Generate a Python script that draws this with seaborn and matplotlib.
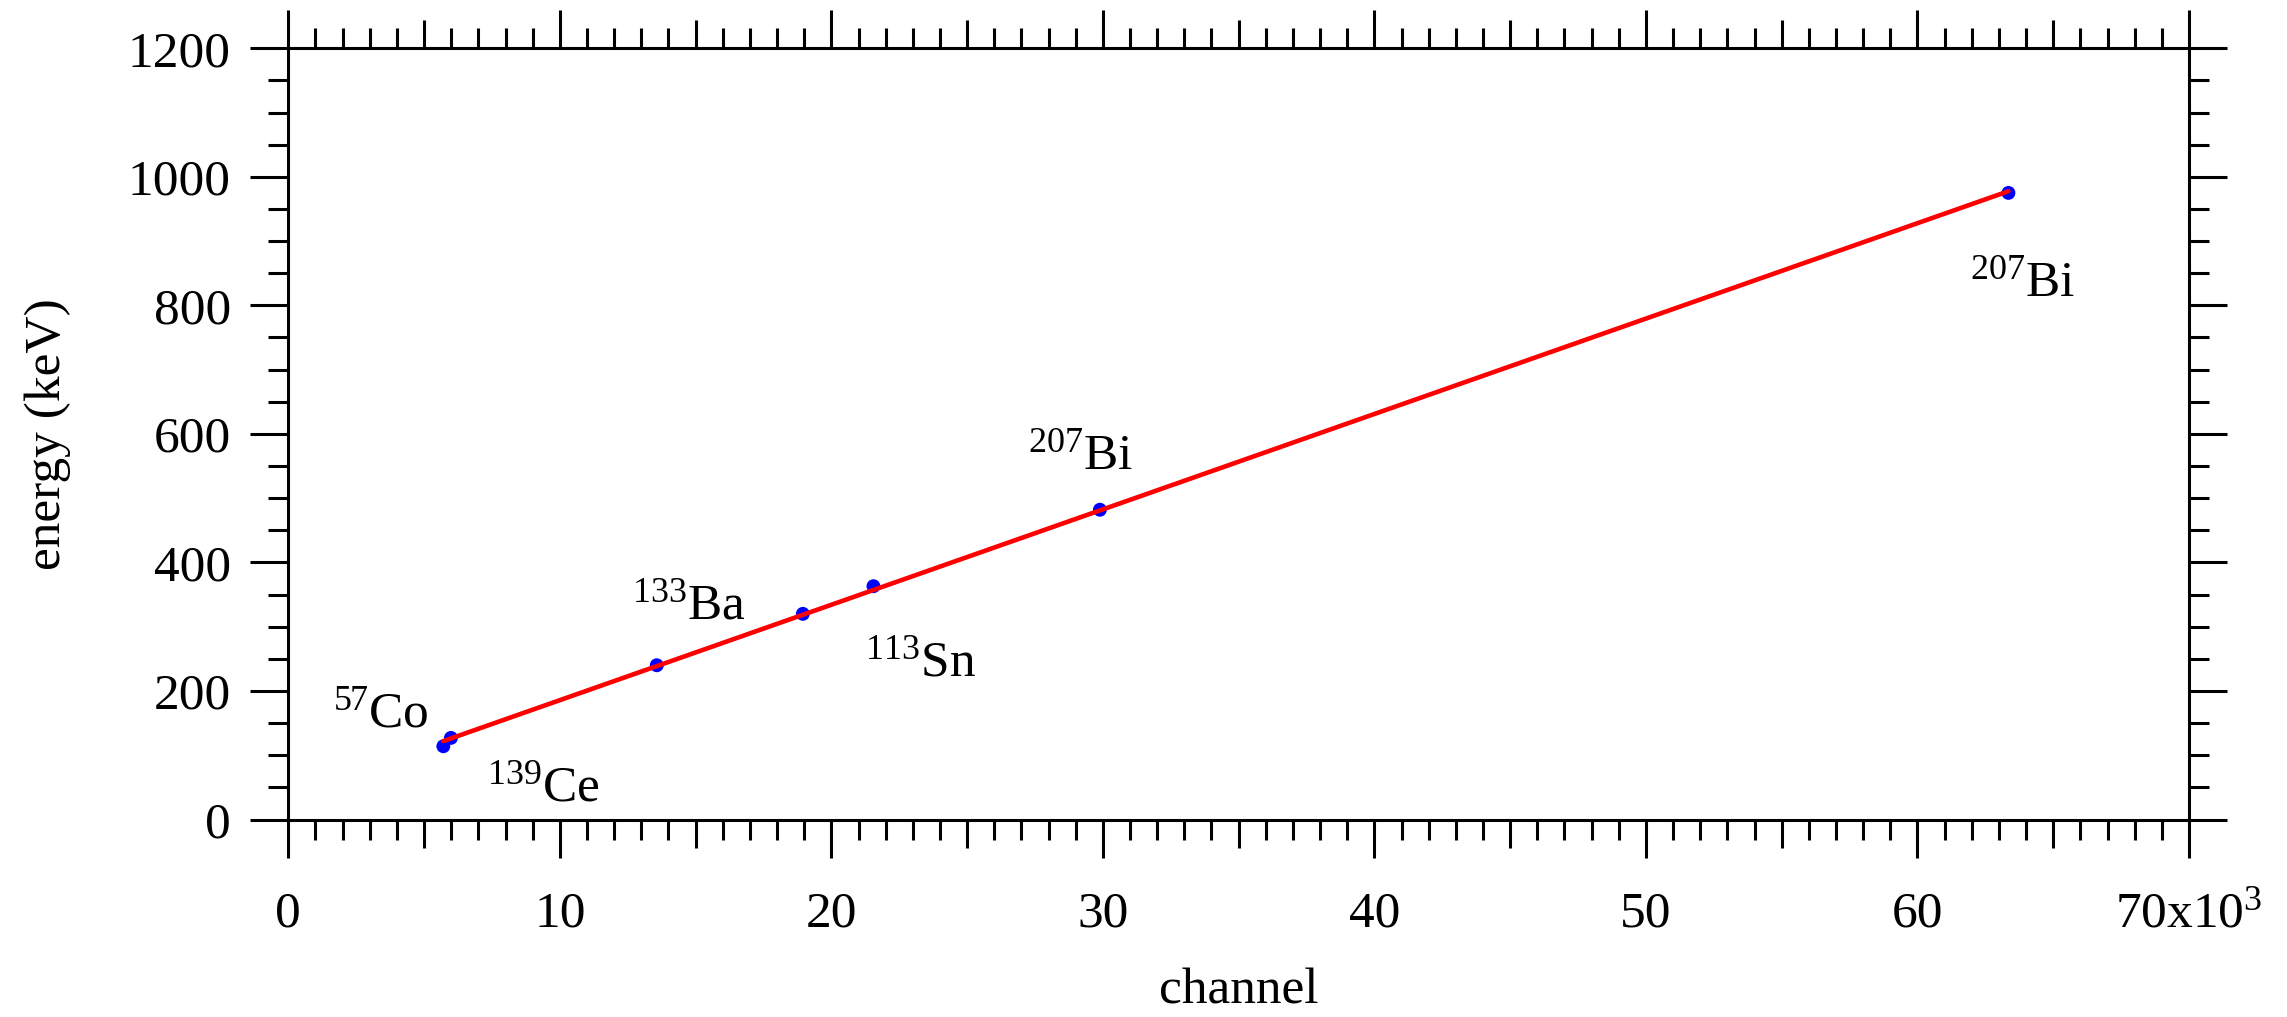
import numpy as np
import pandas as pd
import matplotlib
matplotlib.use("Agg")
import matplotlib.pyplot as plt
import seaborn as sns

# calibration points (channel in units of 10^3, energy in keV)
channel = [5.71, 5.99, 13.57, 18.95, 21.55, 29.89, 63.35]
energy = [114, 127, 240, 320, 363, 482, 975]

# isotope labels: (superscript, symbol)
iso_mass = ["57", "139", "133", "113", "207", "207"]
iso_sym = ["Co", "Ce", "Ba", "Sn", "Bi", "Bi"]
# label anchor (left, baseline) in data coords
lab_x = [1.65, 7.32, 12.66, 21.24, 27.24, 61.94]
lab_y = [145, 30, 313, 224, 545, 814]

xtick_vals = list(range(0, 71, 5))
xtick_text = ["0", "", "10", "", "20", "", "30", "", "40", "", "50", "", "60", "",
              r"70x10$^{3}$"]
ytick_vals = list(range(0, 1201, 200))

sns.set_style("ticks")
plt.rcParams["font.family"] = ["Liberation Serif", "DejaVu Serif"]
plt.rcParams["mathtext.fontset"] = "custom"
plt.rcParams["mathtext.rm"] = "Liberation Serif"
plt.rcParams["mathtext.it"] = "Liberation Serif:italic"
plt.rcParams["mathtext.bf"] = "Liberation Serif:bold"
for key in ["text.color", "axes.labelcolor", "xtick.color", "ytick.color",
            "axes.edgecolor"]:
    plt.rcParams[key] = "black"

fs = 37
px = 0.72  # points per pixel at dpi 100

fig = plt.figure(figsize=(22.87, 10.17), dpi=100)
ax = fig.add_axes([288.3 / 2287, 1 - 819.5 / 1017,
                   (2189 - 288.3) / 2287, (819.5 - 48.3) / 1017])

df = pd.DataFrame({"channel": channel, "energy": energy})
sns.scatterplot(data=df, x="channel", y="energy", ax=ax, color="#0000ff",
                s=100, edgecolor="none", zorder=3)

# linear fit through the calibration points
k, b = np.polyfit(channel, energy, 1)
fit = pd.DataFrame({"channel": [min(channel), max(channel)]})
fit["energy"] = k * fit["channel"] + b
sns.lineplot(data=fit, x="channel", y="energy", ax=ax, color="#ff0000",
             linewidth=3.3, zorder=4)

for m, s, x, y in zip(iso_mass, iso_sym, lab_x, lab_y):
    ax.text(x, y, r"$^{%s}$%s" % (m, s), fontsize=fs, ha="left", va="baseline")

ax.set_xlim(0, 70)
ax.set_ylim(0, 1200)

for side in ["top", "right", "left", "bottom"]:
    ax.spines[side].set_visible(True)
    ax.spines[side].set_linewidth(2.2)
    ax.spines[side].set_color("black")

ax.set_xticks(xtick_vals)
ax.set_xticklabels(xtick_text)
ax.set_xticks(np.arange(0, 71, 1), minor=True)
ax.set_yticks(ytick_vals)
ax.set_yticks(np.arange(0, 1201, 50), minor=True)

ax.tick_params(axis="both", which="both", direction="out", top=True, right=True,
               labeltop=False, labelright=False, width=2.2, color="black",
               labelsize=fs)
ax.tick_params(axis="x", which="major", length=38 * px, pad=24)
ax.tick_params(axis="x", which="minor", length=20 * px)
ax.tick_params(axis="y", which="major", length=38 * px, pad=14)
ax.tick_params(axis="y", which="minor", length=20 * px)

# medium ticks at odd multiples of 5
for val, t in zip(xtick_vals, ax.xaxis.get_major_ticks()):
    if val % 10 != 0:
        t.tick1line.set_markersize(28 * px)
        t.tick2line.set_markersize(28 * px)

ax.set_xlabel("channel", fontsize=fs, labelpad=22)
ax.set_ylabel("energy (keV)", fontsize=fs, labelpad=41)

fig.savefig("out.png", dpi=100)
